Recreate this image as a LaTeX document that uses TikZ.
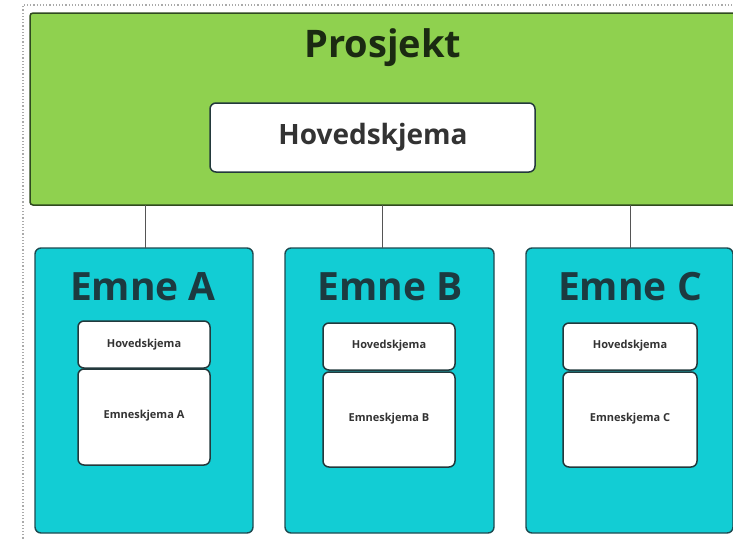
\documentclass[tikz,border=0pt]{standalone}
\usepackage{fontspec}
\setmainfont{Open Sans}
\begin{document}
\begin{tikzpicture}[x=1pt,y=-1pt,
  green/.style={fill=gfill,draw=gborder,line width=1.5pt,rounded corners=3pt},
  emne/.style={fill=cfill,draw=cborder,line width=1.4pt,rounded corners=6pt},
  white/.style={fill=white,draw=wborder,line width=1.5pt,rounded corners=6pt},
  conn/.style={draw=lgray,line width=0.8pt},
  bigtitle/.style={font=\fontsize{38}{40}\selectfont\bfseries,text=ptext},
  emnetitle/.style={font=\fontsize{39}{41}\selectfont\bfseries,text=etext},
  midtext/.style={font=\fontsize{28}{30}\selectfont\bfseries,text=wtext},
  smalltext/.style={font=\fontsize{11}{13}\selectfont\bfseries,text=wtext}]
\definecolor{gfill}{HTML}{8FD14F}
\definecolor{gborder}{HTML}{2F4A1E}
\definecolor{cfill}{HTML}{12CDD4}
\definecolor{cborder}{HTML}{1E4A50}
\definecolor{wborder}{HTML}{23393C}
\definecolor{lgray}{HTML}{555555}
\definecolor{ptext}{HTML}{1B2A12}
\definecolor{etext}{HTML}{1C3A40}
\definecolor{wtext}{HTML}{333333}
\definecolor{dotgray}{HTML}{AAAAAA}
\useasboundingbox (0,0) rectangle (733,539);
\clip (0,0) rectangle (733,539);
\draw[dotgray,dotted,line width=1.2pt] (23,545) -- (23,5) -- (740,5);
% project
\draw[green] (30,13) rectangle (745,205);
\node[bigtitle] (prosjekt) at (383,48) {Prosjekt};
\draw[white] (210,103) rectangle (535,172);
\node[midtext] (hoved) at (373,137) {Hovedskjema};
% emne boxes
\draw[emne] (35,248) rectangle (253,533);
\draw[emne] (285,248) rectangle (494,533);
\draw[emne] (526,248) rectangle (733,533);
\coordinate (ta) at (145,205); \coordinate (ba) at (145,248);
\coordinate (tb) at (382,205); \coordinate (bb) at (382,248);
\coordinate (tc) at (630,205); \coordinate (bc) at (630,248);
\draw[conn] (ta) -- (ba);
\draw[conn] (tb) -- (bb);
\draw[conn] (tc) -- (bc);
\node[emnetitle] (ea) at (143,287) {Emne A};
\node[emnetitle] (eb) at (390,287) {Emne B};
\node[emnetitle] (ec) at (630,287) {Emne C};
% inner boxes
\draw[white] (78,321) rectangle (210,368);
\draw[white] (78,369) rectangle (210,465);
\node[smalltext] (ha) at (144,345) {Hovedskjema};
\node[smalltext] (sa) at (144,416) {Emneskjema A};
\draw[white] (323,323) rectangle (455,370);
\draw[white] (323,372) rectangle (455,467);
\node[smalltext] (hb) at (389,346) {Hovedskjema};
\node[smalltext] (sb) at (389,419) {Emneskjema B};
\draw[white] (563,323) rectangle (697,370);
\draw[white] (563,372) rectangle (697,467);
\node[smalltext] (hc) at (630,346) {Hovedskjema};
\node[smalltext] (sc) at (630,419) {Emneskjema C};
\end{tikzpicture}
\end{document}
